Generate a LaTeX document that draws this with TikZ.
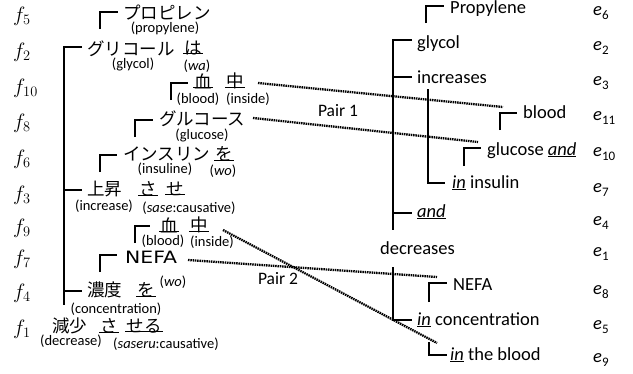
\documentclass[tikz,border=0pt]{standalone}
\usepackage{fontspec}
\setmainfont{Carlito}
\newfontfamily\jp{Noto Sans CJK JP}
\newfontfamily\dv{DejaVu Sans}
\newcommand{\esub}[1]{{\itshape e}\raisebox{-4pt}{\fontsize{13}{14}\selectfont #1}}
\begin{document}
\begin{tikzpicture}[x=1pt,y=-1pt,
  jpn/.style={font=\jp\fontsize{17.5}{20}\selectfont, inner sep=0pt},
  gl/.style={font=\fontsize{14.5}{16}\selectfont, inner sep=0pt},
  en/.style={font=\fontsize{18.5}{22}\selectfont, inner sep=0pt, anchor=base west},
  fl/.style={font=\fontsize{20}{22}\selectfont, inner sep=0pt, anchor=west},
  el/.style={font=\fontsize{18.5}{22}\selectfont, inner sep=0pt, anchor=base west},
  pl/.style={font=\fontsize{17.5}{20}\selectfont, inner sep=0pt},
  br/.style={line width=1.6pt},
  ul/.style={line width=0.9pt},
  pr/.style={line width=2.3pt, dash pattern=on 1.5pt off 0.8pt}]
\useasboundingbox (0,0) rectangle (633,373);

% ---------- f labels ----------
\node[fl] (f5) at (13,16) {$f_{5}$};
\node[fl] (f2) at (13,52) {$f_{2}$};
\node[fl] (f10) at (13,88) {$f_{10}$};
\node[fl] (f8) at (13,123) {$f_{8}$};
\node[fl] (f6) at (13,159) {$f_{6}$};
\node[fl] (f3) at (13,195) {$f_{3}$};
\node[fl] (f9) at (13,228) {$f_{9}$};
\node[fl] (f7) at (13,259) {$f_{7}$};
\node[fl] (f4) at (13,293) {$f_{4}$};
\node[fl] (f1) at (13,329) {$f_{1}$};

% ---------- Japanese side ----------
\node[jpn,anchor=west] (jprop) at (123,13) {プロピレン};
\node[gl] (gprop) at (165,28) {(propylene)};
\node[jpn,anchor=west] (jgly) at (87,49) {グリコール};
\node[gl] (ggly) at (133,64) {(glycol)};
\node[jpn] (jwa) at (193,48) {は};
\node[gl] (gwa) at (197,66) {(\textit{wa})};
\node[jpn] (j10a) at (203,81) {血};
\node[jpn] (j10b) at (235,81) {中};
\node[gl] (g10a) at (198,99) {(blood)};
\node[gl] (g10b) at (248,99) {(inside)};
\node[jpn,anchor=west] (jglu) at (159,119) {グルコース};
\node[gl] (gglu) at (202,135) {(glucose)};
\node[jpn,anchor=west] (jins) at (123,154) {インスリン};
\node[gl] (gins) at (165,169) {(insuline)};
\node[jpn] (jwo6) at (224,154) {を};
\node[gl] (gwo6) at (223,171) {(\textit{wo})};
\node[jpn,anchor=west] (jinc) at (87,189) {上昇};
\node[gl] (ginc) at (104,206) {(increase)};
\node[jpn] (jsa3) at (148,189) {さ};
\node[jpn] (jse3) at (175,189) {せ};
\node[gl] (gsase) at (189,208) {(\textit{sase}:causative)};
\node[jpn] (j9a) at (169,225) {血};
\node[jpn] (j9b) at (199,225) {中};
\node[gl] (g9a) at (163,241) {(blood)};
\node[gl] (g9b) at (212,242) {(inside)};
\node[inner sep=0pt,anchor=west,font=\dv\fontsize{17}{20}\selectfont] (jnefa) at (125,257) {\scalebox{1.2}[1]{NEFA}};
\node[jpn,anchor=west] (jconc) at (87,290) {濃度};
\node[jpn] (jwo4) at (146,290) {を};
\node[gl] (gwo4) at (173,282) {(\textit{wo})};
\node[gl] (gconc) at (116,309) {(concentration)};
\node[jpn,anchor=west] (jdec) at (52,326) {減少};
\node[jpn] (jsa1) at (109,326) {さ};
\node[jpn] (jseru) at (144,326) {せる};
\node[gl] (gdec) at (71,341) {(decrease)};
\node[gl] (gsaseru) at (166,344) {(\textit{saseru}:causative)};

% underlines
\foreach \n in {jwa,j10a,j10b,jwo6,jsa3,jse3,j9a,j9b,jwo4,jsa1,jseru}
  \draw[ul] ([xshift=-1pt,yshift=1.5pt]\n.south west) -- ([xshift=1pt,yshift=1.5pt]\n.south east);

% Japanese tree
\draw[br] (100,29) -- (100,12) -- (118,12);
\draw[br] (82,47) -- (64,47) -- (64,305);
\draw[br] (64,190) -- (82,190);
\draw[br] (64,291) -- (82,291);
\draw[br] (171,100) -- (171,83) -- (188,83);
\draw[br] (135,137) -- (135,120) -- (153,120);
\draw[br] (100,172) -- (100,155) -- (117,155);
\draw[br] (135,243) -- (135,226) -- (150,226);
\draw[br] (100,272) -- (100,255) -- (117,255);

% ---------- English side ----------
\node[en] (eprop) at (450,13.5) {Propylene};
\node[en] (egly) at (417,48) {glycol};
\node[en] (einc) at (417,83) {increases};
\node[en] (eblood) at (523,118) {blood};
\node[en] (eglu) at (487,155) {glucose \underline{\textit{and}}};
\node[en] (eins) at (452,188) {\underline{\textit{in}} insulin};
\node[en] (eand) at (417,217) {\underline{\textit{and}}};
\node[en] (edec) at (380,254) {decreases};
\node[en] (enefa) at (453,290) {NEFA};
\node[en] (econc) at (417,325) {\underline{\textit{in}} concentration};
\node[en] (ebl) at (450,360) {\underline{\textit{in}} the blood};

\draw[br] (426,23) -- (426,6) -- (444,6);
\draw[br] (412,40) -- (393,40) -- (393,230);
\draw[br] (393,77) -- (412,77);
\draw[br] (393,213) -- (412,213);
\draw[br] (428,89) -- (428,183) -- (445,183);
\draw[br] (500,130) -- (500,113) -- (517,113);
\draw[br] (464,166) -- (464,148) -- (481,148);
\draw[br] (393,267) -- (393,320) -- (412,320);
\draw[br] (429,302) -- (429,283) -- (447,283);
\draw[br] (429,342) -- (429,355) -- (447,355);

% e labels
\node[el] (e6) at (593,15) {\esub{6}};
\node[el] (e2) at (593,50) {\esub{2}};
\node[el] (e3) at (593,85) {\esub{3}};
\node[el] (e11) at (593,120) {\esub{11}};
\node[el] (e10) at (593,156) {\esub{10}};
\node[el] (e7) at (593,192) {\esub{7}};
\node[el] (e4) at (593,225) {\esub{4}};
\node[el] (e1) at (593,256) {\esub{1}};
\node[el] (e8) at (593,294) {\esub{8}};
\node[el] (e5) at (593,329) {\esub{5}};
\node[el] (e9) at (593,362) {\esub{9}};

% ---------- pairs ----------
\coordinate (p1as) at (258,83);
\coordinate (p1ae) at (503,107);
\coordinate (p1bs) at (253,118);
\coordinate (p1be) at (478,142);
\coordinate (p2as) at (223,230);
\coordinate (p2ae) at (437,343);
\coordinate (p2bs) at (188,260);
\coordinate (p2be) at (437,277);
\draw[pr] (p1as) -- (p1ae);
\draw[pr] (p1bs) -- (p1be);
\draw[pr] (p2as) -- (p2ae);
\draw[pr] (p2bs) -- (p2be);
\node[pl] (pair1) at (338,111) {Pair 1};
\node[pl] (pair2) at (278,279) {Pair 2};
\end{tikzpicture}
\end{document}
